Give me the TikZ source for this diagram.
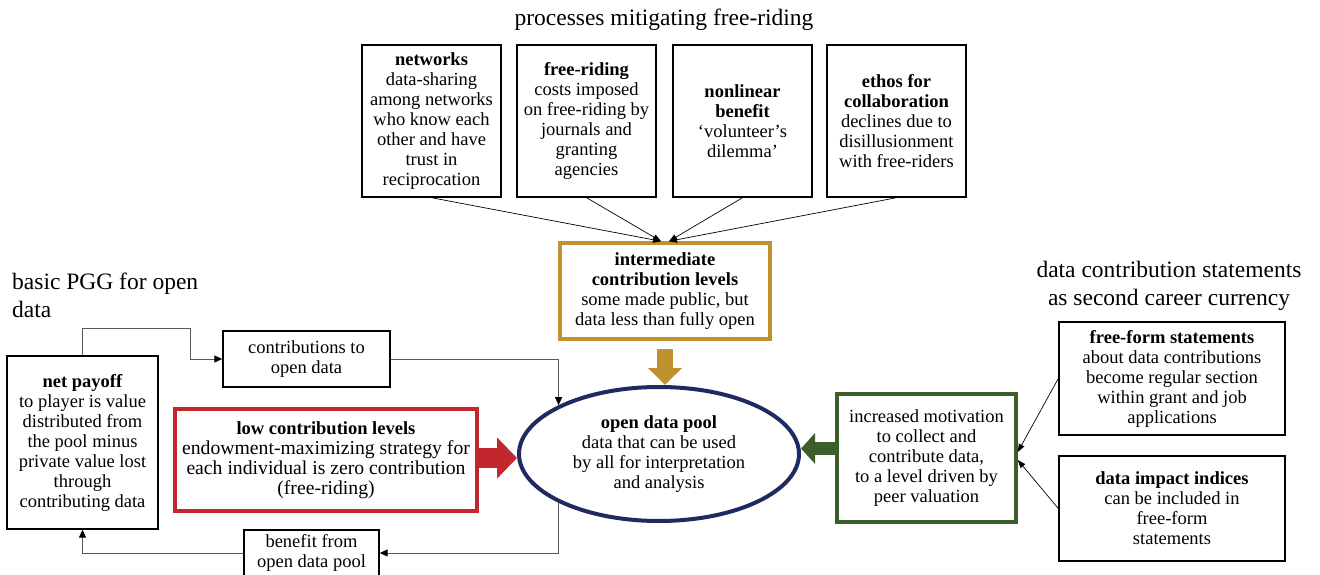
\documentclass[tikz,border=0pt]{standalone}
\usepackage{fontspec}
\setmainfont{Liberation Serif}
\usetikzlibrary{arrows.meta,shapes.geometric}
\definecolor{goldc}{HTML}{C0912F}
\definecolor{redc}{HTML}{C1272D}
\definecolor{navyc}{HTML}{1F2A60}
\definecolor{greenc}{HTML}{3B5E2B}
\newcommand{\bodyfont}{\fontsize{18.5}{20}\selectfont}
\newcommand{\bigbody}{\fontsize{19.7}{20}\selectfont}
\newcommand{\titlefont}{\fontsize{23.5}{28}\selectfont}
\begin{document}
\begin{tikzpicture}[x=1pt,y=-1pt,
  box/.style={draw=black, line width=1.4pt, align=center, font=\bodyfont, inner sep=2pt},
  cbox/.style={box, line width=3.5pt},
  ttl/.style={font=\titlefont, inner sep=0pt},
  conn/.style={draw=black!65, line width=1pt, -{Triangle[length=8pt,width=7pt,color=black]}},
  tarrow/.style={draw=black, line width=0.7pt, -{Triangle[length=8pt,width=6pt]}}]
\useasboundingbox (0,0) rectangle (1320,575);
\fill[white] (0,0) rectangle (1320,575);

% titles
\node[ttl, anchor=base] (t1) at (664,26) {processes mitigating free-riding};
\node[ttl, align=left, anchor=west] (t2) at (12,295) {basic PGG for open\\data};
\node[ttl, align=center] (t3) at (1169,285.5) {data contribution statements\\as second career currency};

% top boxes
\node[box, minimum width=139, minimum height=152] (net1) at (431.5,121) {\textbf{networks}\\data-sharing\\among networks\\who know each\\other and have\\trust in\\reciprocation};
\node[box, minimum width=139, minimum height=152] (fr) at (586.5,121) {\textbf{free-riding}\\costs imposed\\on free-riding by\\journals and\\granting\\agencies};
\node[box, minimum width=139, minimum height=152] (nl) at (742.5,121) {\textbf{nonlinear}\\\textbf{benefit}\\‘volunteer’s\\dilemma’};
\node[box, minimum width=139, minimum height=152] (eth) at (896.5,121) {\textbf{ethos for}\\\textbf{collaboration}\\declines due to\\disillusionment\\with free-riders};

% intermediate
\node[cbox, draw=goldc, minimum width=210, minimum height=96] (inter) at (665,291) {\textbf{intermediate}\\\textbf{contribution levels}\\some made public, but\\data less than fully open};

% pool
\node[draw=navyc, line width=4pt, ellipse, minimum width=280, minimum height=134, inner sep=0pt, align=center, font=\bodyfont] (pool) at (659,454) {\textbf{open data pool}\\data that can be used\\by all for interpretation\\and analysis};

% left side
\node[cbox, draw=redc, minimum width=302, minimum height=102] (low) at (326,460) {\textbf{low contribution levels}\\{\bigbody endowment-maximizing strategy for}\\{\bigbody each individual is zero contribution}\\{\bigbody (free-riding)}};
\node[box, minimum width=167, minimum height=56] (contrib) at (306.5,359) {contributions to\\open data};
\node[box, minimum width=135, minimum height=46] (benefit) at (311.5,553) {benefit from\\open data pool};
\node[box, minimum width=151, minimum height=173] (net) at (82.5,442.5) {\textbf{net payoff}\\to player is value\\distributed from\\the pool minus\\private value lost\\through\\contributing data};

% right side
\node[cbox, draw=greenc, minimum width=179, minimum height=128] (mot) at (926.5,458) {increased motivation\\to collect and\\contribute data,\\to a level driven by\\peer valuation};
\node[box, minimum width=226, minimum height=113] (ff) at (1172,378.5) {\textbf{free-form statements}\\about data contributions\\become regular section\\within grant and job\\applications};
\node[box, minimum width=226, minimum height=105] (dii) at (1172,508.5) {\textbf{data impact indices}\\can be included in\\free-form\\statements};

% fat arrows
\draw[line width=16pt, draw=goldc, -{Triangle[length=17pt,width=33pt]}] ([yshift=-8pt]inter.south) -- (inter.south |- pool.north);
\coordinate (rA) at ([yshift=2pt]low.east);
\draw[line width=20pt, draw=redc, -{Triangle[length=20pt,width=40pt]}] (rA) -- (rA -| pool.west);
\coordinate (gA) at ([yshift=9.5pt]mot.west);
\draw[line width=13.5pt, draw=greenc, -{Triangle[length=14pt,width=30pt]}] (gA) -- (gA -| pool.east);

% top arrows
\draw[tarrow] (net1.south) -- ([xshift=-4pt]inter.north);
\draw[tarrow] (fr.south) -- ([xshift=-4pt]inter.north);
\draw[tarrow] (nl.south) -- ([xshift=4pt]inter.north);
\draw[tarrow] (eth.south) -- ([xshift=4pt]inter.north);

% loop connectors
\draw[conn] (net.north) -- ++(0,-27) -| ([xshift=-32pt]contrib.west) -- (contrib.west);
\draw[conn] (contrib.east) -| (pool.north west);
\draw[conn] (pool.south west) |- (benefit.east);
\draw[conn] (benefit.west) -| (net.south);

% right arrows
\draw[tarrow] (ff.west) -- ([yshift=6pt]mot.east);
\draw[tarrow] (dii.west) -- ([yshift=-2pt]mot.east);
\end{tikzpicture}
\end{document}
